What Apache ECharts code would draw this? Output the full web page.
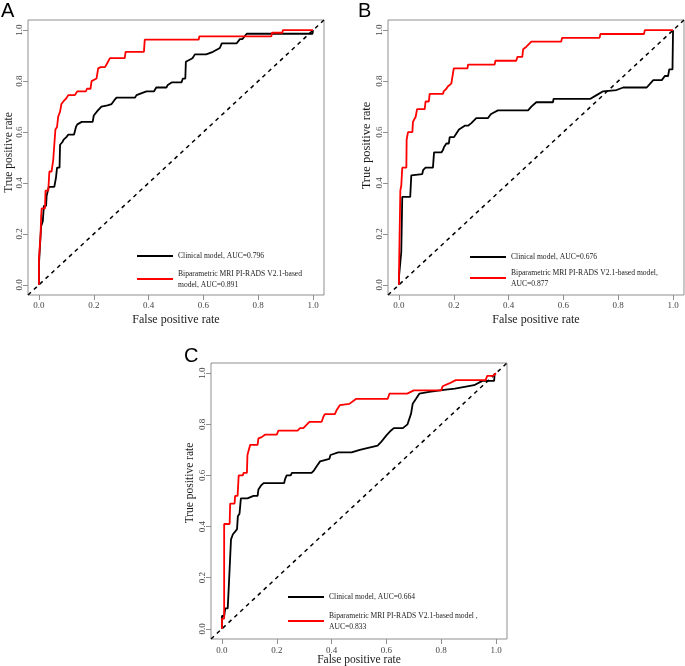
<!DOCTYPE html>
<html><head><meta charset="utf-8">
<script src="https://cdn.jsdelivr.net/npm/echarts@6/dist/echarts.min.js"></script>
<style>html,body{margin:0;padding:0;background:#fff}#c{width:685px;height:666px}</style>
</head><body><div id="c"></div>
<script>
// ---- data ----
const tickValues = [0, 0.2, 0.4, 0.6, 0.8, 1.0];
const panelLetters = ['A', 'B', 'C'];
const xTitle = 'False positive rate';
const yTitle = 'True positive rate';
const clinicalNames = ['Clinical model, AUC=0.796', 'Clinical model, AUC=0.676', 'Clinical model, AUC=0.664'];
const modelNames = [
  'Biparametric MRI PI-RADS V2.1-based\nmodel, AUC=0.891',
  'Biparametric MRI PI-RADS V2.1-based model,\nAUC=0.877',
  'Biparametric MRI PI-RADS V2.1-based model ,\nAUC=0.833'
];
const diagonalX = [-0.04, 1.04];
const diagonalY = [-0.04, 1.04];

const aClinicalFpr = [0,0,0.004,0.008,0.014,0.018,0.026,0.028,0.034,0.036,0.056,0.062,0.066,0.075,0.077,0.085,0.09,0.1,0.107,0.128,0.135,0.14,0.156,0.196,0.2,0.215,0.222,0.228,0.25,0.265,0.275,0.283,0.35,0.356,0.368,0.392,0.42,0.428,0.465,0.47,0.484,0.52,0.525,0.534,0.536,0.56,0.569,0.61,0.635,0.66,0.667,0.721,0.733,0.742,0.758,0.998,1];
const aClinicalTpr = [0,0.08,0.16,0.23,0.25,0.31,0.31,0.35,0.35,0.385,0.385,0.42,0.46,0.46,0.55,0.56,0.57,0.58,0.59,0.59,0.62,0.63,0.64,0.64,0.665,0.685,0.69,0.70,0.705,0.71,0.725,0.735,0.735,0.745,0.75,0.76,0.76,0.775,0.775,0.785,0.795,0.795,0.81,0.81,0.876,0.89,0.905,0.905,0.915,0.93,0.948,0.948,0.965,0.965,0.986,0.986,1];
const aModelFpr = [0,0,0.005,0.006,0.008,0.01,0.022,0.024,0.034,0.038,0.046,0.052,0.056,0.06,0.066,0.07,0.077,0.082,0.089,0.098,0.107,0.131,0.14,0.171,0.175,0.188,0.192,0.21,0.216,0.225,0.241,0.249,0.259,0.313,0.316,0.383,0.386,0.583,0.585,0.848,0.85,0.888,0.89,1];
const aModelTpr = [0,0.1,0.1,0.2,0.27,0.3,0.3,0.37,0.37,0.445,0.445,0.49,0.55,0.61,0.62,0.66,0.68,0.71,0.72,0.73,0.745,0.745,0.76,0.76,0.77,0.77,0.8,0.81,0.85,0.855,0.855,0.87,0.89,0.89,0.915,0.915,0.963,0.963,0.976,0.976,0.99,0.99,1,1];

const bClinicalFpr = [0,0,0.006,0.0085,0.012,0.012,0.041,0.045,0.085,0.088,0.097,0.124,0.128,0.155,0.161,0.164,0.173,0.182,0.185,0.201,0.207,0.219,0.24,0.252,0.264,0.282,0.325,0.335,0.343,0.361,0.471,0.483,0.501,0.562,0.564,0.697,0.721,0.745,0.794,0.818,0.904,0.928,0.959,0.97,0.982,0.986,0.998,1];
const bClinicalTpr = [0,0.03,0.03,0.13,0.13,0.345,0.345,0.43,0.435,0.45,0.46,0.46,0.52,0.52,0.53,0.54,0.555,0.555,0.58,0.58,0.59,0.61,0.625,0.625,0.635,0.655,0.655,0.67,0.675,0.685,0.685,0.70,0.717,0.717,0.73,0.73,0.745,0.76,0.765,0.775,0.775,0.804,0.804,0.82,0.82,0.846,0.846,1];
const bModelFpr = [0,0,0.005,0.005,0.0085,0.012,0.027,0.028,0.033,0.049,0.051,0.061,0.066,0.094,0.097,0.109,0.112,0.161,0.163,0.173,0.179,0.191,0.2,0.25,0.252,0.349,0.352,0.428,0.432,0.45,0.453,0.465,0.474,0.483,0.592,0.595,0.732,0.735,0.894,0.897,1];
const bModelTpr = [0,0.04,0.04,0.37,0.39,0.46,0.46,0.57,0.6,0.6,0.64,0.66,0.69,0.69,0.72,0.72,0.75,0.75,0.76,0.77,0.78,0.79,0.85,0.85,0.865,0.865,0.88,0.88,0.895,0.895,0.925,0.935,0.945,0.955,0.955,0.97,0.97,0.985,0.985,1,1];

const cClinicalFpr = [0,0,0.008,0.012,0.021,0.024,0.03,0.033,0.04,0.048,0.055,0.058,0.064,0.069,0.093,0.115,0.13,0.133,0.142,0.152,0.227,0.23,0.236,0.251,0.255,0.327,0.336,0.345,0.358,0.392,0.396,0.424,0.473,0.503,0.568,0.58,0.6,0.617,0.627,0.66,0.677,0.69,0.696,0.708,0.72,0.756,0.817,0.85,0.92,0.95,0.993,0.995];
const cClinicalTpr = [0,0.05,0.05,0.08,0.08,0.145,0.145,0.35,0.37,0.38,0.39,0.44,0.45,0.51,0.51,0.52,0.52,0.545,0.56,0.57,0.57,0.585,0.6,0.6,0.61,0.61,0.62,0.635,0.655,0.665,0.68,0.69,0.69,0.70,0.717,0.73,0.757,0.776,0.785,0.785,0.80,0.842,0.881,0.90,0.92,0.927,0.936,0.94,0.953,0.97,0.97,1];
const cModelFpr = [0,0,0.008,0.008,0.028,0.03,0.046,0.048,0.057,0.061,0.076,0.079,0.091,0.093,0.103,0.13,0.133,0.145,0.158,0.2,0.206,0.276,0.285,0.297,0.319,0.364,0.37,0.376,0.412,0.418,0.43,0.433,0.465,0.49,0.605,0.611,0.676,0.70,0.8,0.805,0.829,0.853,0.962,0.968,0.99,1];
const cModelTpr = [0,0.04,0.04,0.41,0.41,0.49,0.49,0.52,0.52,0.6,0.6,0.61,0.61,0.68,0.72,0.72,0.745,0.75,0.76,0.76,0.775,0.775,0.785,0.785,0.81,0.81,0.83,0.84,0.84,0.855,0.875,0.88,0.88,0.9,0.9,0.92,0.92,0.933,0.933,0.949,0.96,0.973,0.973,0.99,0.99,1];

// ---- layout / styling ----
const zip = (xs, ys) => xs.map((x, i) => [x, ys[i]]);
const panels = [
  {box:{left:28, top:20, width:296, height:275}, clin:zip(aClinicalFpr,aClinicalTpr), model:zip(aModelFpr,aModelTpr),
   legend:{left:137, top:250.5, gap:6.5}, xNameGap:19, yNameGap:13, xNameSize:12, yNameSize:11.5, yNameShift:10,
   xLabelMargin:6, letter:{x:1, y:1}},
  {box:{left:388, top:20, width:296, height:275}, clin:zip(bClinicalFpr,bClinicalTpr), model:zip(bModelFpr,bModelTpr),
   legend:{left:470, top:251.5, gap:4.5}, xNameGap:19, yNameGap:15, xNameSize:12, yNameSize:12.5, yNameShift:24,
   xLabelMargin:6, letter:{x:358, y:1}},
  {box:{left:211, top:363, width:296, height:276}, clin:zip(cClinicalFpr,cClinicalTpr), model:zip(cModelFpr,cModelTpr),
   legend:{left:288, top:591.5, gap:7.5}, xNameGap:15, yNameGap:15, xNameSize:11.5, yNameSize:11.5, yNameShift:36,
   xLabelMargin:7, letter:{x:184, y:346}}
];
const SERIF = "'Liberation Serif','Times New Roman',serif";
const option = {
  animation: false,
  backgroundColor: '#ffffff',
  grid: [], xAxis: [], yAxis: [], series: [], legend: [], graphic: []
};
panels.forEach((p, i) => {
  option.grid.push({left:p.box.left, top:p.box.top, width:p.box.width, height:p.box.height,
    show:true, borderColor:'#8f8f8f', borderWidth:1, backgroundColor:'transparent', outerBoundsMode:'none', containLabel:false});
  option.xAxis.push({type:'value', gridIndex:i, min:-0.04, max:1.04, position:'bottom',
    name:xTitle, nameLocation:'middle', nameGap:p.xNameGap, nameMoveOverlap:false,
    nameTextStyle:{fontFamily:SERIF, fontSize:p.xNameSize, color:'#1a1a1a'},
    axisLine:{show:false, onZero:false}, splitLine:{show:false},
    axisTick:{show:true, inside:false, customValues:tickValues, length:5, lineStyle:{color:'#8f8f8f'}},
    axisLabel:{customValues:tickValues, formatter:v=>v.toFixed(1), fontFamily:SERIF, fontSize:9, color:'#444', margin:p.xLabelMargin}});
  option.yAxis.push({type:'value', gridIndex:i, min:-0.04, max:1.04, position:'left',
    name:yTitle, nameLocation:'middle', nameGap:p.yNameGap, nameMoveOverlap:false,
    nameTextStyle:{fontFamily:SERIF, fontSize:p.yNameSize, color:'#1a1a1a', padding:[0,0,0,p.yNameShift]},
    axisLine:{show:false, onZero:false}, splitLine:{show:false},
    axisTick:{show:true, inside:false, customValues:tickValues, length:5, lineStyle:{color:'#8f8f8f'}},
    axisLabel:{customValues:tickValues, formatter:v=>v.toFixed(1), rotate:90, fontFamily:SERIF, fontSize:9, color:'#444', margin:4}});
  option.series.push({type:'line', xAxisIndex:i, yAxisIndex:i, data:zip(diagonalX, diagonalY), showSymbol:false, silent:true,
    lineStyle:{color:'#000', width:1.5, type:[4,4]}});
  option.series.push({type:'line', name:clinicalNames[i], xAxisIndex:i, yAxisIndex:i, data:p.clin, showSymbol:false,
    color:'#000000', lineStyle:{color:'#000000', width:1.8}});
  option.series.push({type:'line', name:modelNames[i], xAxisIndex:i, yAxisIndex:i, data:p.model, showSymbol:false,
    color:'#ff0000', lineStyle:{color:'#ff0000', width:1.8}});
  option.legend.push({data:[clinicalNames[i], modelNames[i]], orient:'vertical', left:p.legend.left, top:p.legend.top,
    padding:0, itemGap:p.legend.gap, itemWidth:36, itemHeight:2, icon:'rect', selectedMode:false,
    textStyle:{fontFamily:SERIF, fontSize:7.6, color:'#222', lineHeight:11}});
  option.graphic.push({type:'text', left:p.letter.x, top:p.letter.y,
    style:{text:panelLetters[i], font:"20px 'Liberation Sans', Arial, sans-serif", fill:'#000'}});
});
const chart = echarts.init(document.getElementById('c'), null, {renderer:'canvas'});
chart.setOption(option);
</script></body></html>
